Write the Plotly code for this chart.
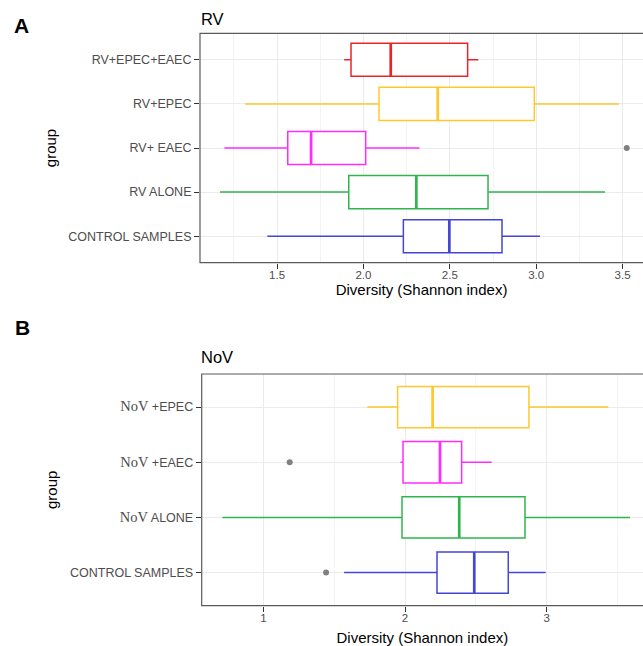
import plotly.graph_objects as go

# ---------------- Panel A (RV) ----------------
A_groups = ["CONTROL SAMPLES", "RV ALONE", "RV+ EAEC", "RV+EPEC", "RV+EPEC+EAEC"]
A_low = [1.444, 1.170, 1.195, 1.315, 1.888]
A_q1 = [2.231, 1.915, 1.562, 2.090, 1.928]
A_med = [2.497, 2.306, 1.697, 2.430, 2.158]
A_q3 = [2.802, 2.721, 2.013, 2.989, 2.603]
A_high = [3.022, 3.398, 2.324, 3.479, 2.665]
A_out_group = ["RV+ EAEC"]
A_out_val = [3.524]
A_ticks = [1.5, 2.0, 2.5, 3.0, 3.5]

# ---------------- Panel B (NoV) ----------------
B_groups = ["CONTROL SAMPLES", "NoV ALONE", "NoV +EAEC", "NoV +EPEC"]
B_low = [1.570, 0.711, 1.967, 1.734]
B_q1 = [2.226, 1.979, 1.986, 1.948]
B_med = [2.489, 2.383, 2.247, 2.195]
B_q3 = [2.729, 2.847, 2.400, 2.875]
B_high = [2.993, 3.588, 2.612, 3.435]
B_out_group = ["NoV +EAEC", "CONTROL SAMPLES"]
B_out_val = [1.186, 1.443]
B_ticks = [1, 2, 3]

A_colors = ["#4545D6", "#30B54E", "#FF2CFF", "#FFC82E", "#E8262A"]
B_colors = ["#4545D6", "#30B54E", "#FF2CFF", "#FFC82E"]

W, H = 643, 646
BOXW = 0.75

fig = go.Figure()


def add_panel(groups, low, q1, med, q3, high, colors, out_g, out_v, xa, ya):
    for i, g in enumerate(groups):
        pos = i + 1
        fig.add_trace(go.Box(
            y=[pos], q1=[q1[i]], median=[med[i]], q3=[q3[i]],
            lowerfence=[low[i]], upperfence=[high[i]],
            orientation="h", width=BOXW, whiskerwidth=0,
            fillcolor="white", line=dict(color=colors[i], width=1.5),
            boxpoints=False, hoverinfo="skip", showlegend=False,
            xaxis=xa, yaxis=ya,
        ))
        fig.add_trace(go.Scatter(
            x=[med[i], med[i]], y=[pos - BOXW / 2, pos + BOXW / 2],
            mode="lines", line=dict(color=colors[i], width=2.7),
            hoverinfo="skip", showlegend=False, xaxis=xa, yaxis=ya,
        ))
    fig.add_trace(go.Scatter(
        x=out_v, y=[groups.index(g) + 1 for g in out_g], mode="markers",
        marker=dict(color="#808080", size=6), hoverinfo="skip",
        showlegend=False, xaxis=xa, yaxis=ya,
    ))


add_panel(A_groups, A_low, A_q1, A_med, A_q3, A_high, A_colors,
          A_out_group, A_out_val, "x", "y")
add_panel(B_groups, B_low, B_q1, B_med, B_q3, B_high, B_colors,
          B_out_group, B_out_val, "x2", "y2")

serif = '<span style="font-family:\'Liberation Serif\', serif; font-size:14.5px">NoV</span>'
B_ticktext = [g.replace("NoV", serif) for g in B_groups]

tickfont = dict(family="Liberation Sans, Arial, sans-serif", size=11.5, color="#4D4D4D")
titlefont = dict(family="Liberation Sans, Arial, sans-serif", size=15, color="black")

common_x = dict(
    showline=False, zeroline=False, ticks="outside", ticklen=5, tickwidth=1,
    tickcolor="#333333", tickfont=tickfont, showgrid=True, gridcolor="#EBEBEB",
    gridwidth=1, ticklabelstandoff=-4,
)
common_y = dict(
    showline=False, zeroline=False, ticks="outside", ticklen=5, tickwidth=1,
    tickcolor="#333333", tickfont=dict(tickfont, size=12.5), showgrid=True,
    gridcolor="#EBEBEB", gridwidth=1,
)

fig.update_layout(
    width=W, height=H, margin=dict(l=0, r=0, t=0, b=0),
    plot_bgcolor="white", paper_bgcolor="white",
    xaxis=dict(common_x, domain=[200 / W, 1], range=[1.054, 3.618], anchor="y",
               tickvals=A_ticks, ticktext=["%.1f" % t for t in A_ticks],
               minor=dict(dtick=0.25, showgrid=True, gridcolor="#F3F3F3", gridwidth=0.7, ticks=""),
               title=dict(text="Diversity (Shannon index)", font=titlefont, standoff=3)),
    yaxis=dict(common_y, domain=[1 - 262.7 / H, 1 - 33.3 / H], range=[0.4, 5.6], anchor="x",
               tickvals=list(range(1, len(A_groups) + 1)), ticktext=A_groups,
               title=dict(text="group", font=titlefont, standoff=8)),
    xaxis2=dict(common_x, domain=[201.7 / W, 1], range=[0.565, 3.680], anchor="y2",
                tickvals=B_ticks, ticktext=[str(t) for t in B_ticks],
                minor=dict(dtick=0.5, showgrid=True, gridcolor="#F3F3F3", gridwidth=0.7, ticks=""),
                title=dict(text="Diversity (Shannon index)", font=titlefont, standoff=9)),
    yaxis2=dict(common_y, domain=[1 - 605.7 / H, 1 - 374 / H], range=[0.4, 4.6], anchor="x2",
                tickvals=list(range(1, len(B_groups) + 1)), ticktext=B_ticktext,
                title=dict(text="group", font=titlefont, standoff=8)),
)

# panel borders (right side runs off the canvas as in the reference)
for xr, yr in (("x domain", "y domain"), ("x2 domain", "y2 domain")):
    fig.add_shape(type="rect", xref=xr, yref=yr, x0=0, x1=1.05, y0=0, y1=1,
                  line=dict(color="#5A5A5A", width=1.2), fillcolor="rgba(0,0,0,0)",
                  layer="above")

ann_font = dict(family="Liberation Sans, Arial, sans-serif", color="black")
fig.add_annotation(text="<b>A</b>", xref="paper", yref="paper", x=12 / W, y=1 - 25.5 / H,
                   xanchor="left", yanchor="middle", showarrow=False, font=dict(ann_font, size=21))
fig.add_annotation(text="<b>B</b>", xref="paper", yref="paper", x=13 / W, y=1 - 327.5 / H,
                   xanchor="left", yanchor="middle", showarrow=False, font=dict(ann_font, size=21))
fig.add_annotation(text="RV", xref="paper", yref="paper", x=199 / W, y=1 - 19 / H,
                   xanchor="left", yanchor="middle", showarrow=False, font=dict(ann_font, size=16.5))
fig.add_annotation(text="NoV", xref="paper", yref="paper", x=199 / W, y=1 - 356.5 / H,
                   xanchor="left", yanchor="middle", showarrow=False, font=dict(ann_font, size=16.5))

fig.write_html(
    "out.html",
    config={"displayModeBar": False},
    post_script="document.body.style.margin='0';document.body.style.overflow='hidden';",
)
